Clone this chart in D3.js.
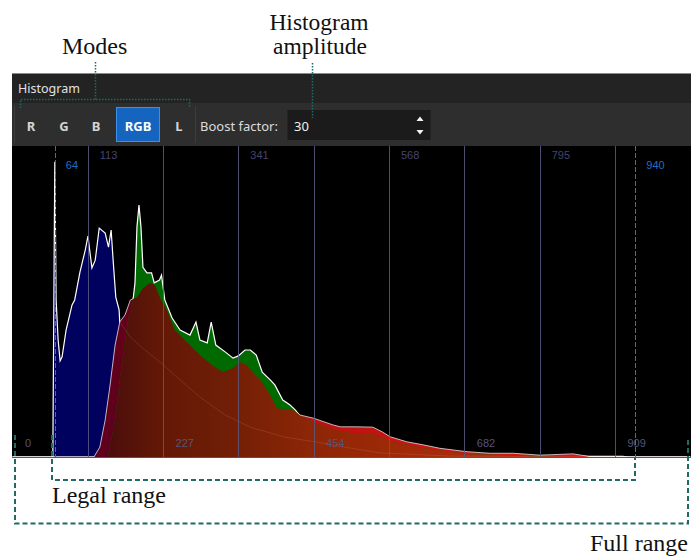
<!DOCTYPE html>
<html>
<head>
<meta charset="utf-8">
<script src="https://cdn.jsdelivr.net/npm/d3@7"></script>
<style>
  html, body { margin: 0; padding: 0; background: #fff; }
  svg { display: block; }
</style>
</head>
<body>
<div id="chart"></div>
<script>
// code values (0..1023) and relative amplitude (0..100) for each channel
var blueCodes  = [0, 61, 63, 64, 66, 69, 72, 75, 81, 90, 94, 102, 110, 114, 120, 125, 131, 140, 145, 149, 152, 156, 161, 162, 178, 200, 223, 253, 283, 321, 359, 411, 460, 509, 555, 660, 760, 921, 930, 1023];
var blueLevels = [0, 0, 64.6, 94.9, 50.5, 37.6, 30.9, 32.2, 40.8, 48.9, 50.5, 59.5, 66.6, 71, 60.8, 63.3, 73.6, 72, 67.5, 73, 63.3, 51.4, 47.3, 43.4, 38.6, 34.4, 30.5, 24.8, 19.3, 13.5, 9.6, 6.4, 4.8, 2.9, 1.3, 0.3, 0.2, 0.2, 0, 0];

var redCodes  = [0, 123, 132, 140, 147, 155, 162, 170, 178, 188, 197, 208, 215, 223, 233, 245, 263, 283, 301, 318, 333, 344, 354, 366, 374, 389, 399, 411, 424, 434, 454, 484, 495, 520, 544, 558, 570, 595, 620, 645, 686, 721, 756, 796, 846, 867, 872, 1023];
var redLevels = [0, 0, 3.2, 11.9, 22.5, 36, 43.4, 45.7, 50.5, 51.4, 54.3, 56, 55.3, 51.1, 47.3, 40.8, 37, 32.8, 29.6, 27.3, 28.6, 30.5, 29.6, 26.4, 24.8, 19.9, 15.8, 15.1, 15.1, 13.5, 12.5, 10.3, 9.7, 9.7, 9.6, 8.1, 6.5, 4.9, 3.9, 2.8, 1.7, 1.2, 1.2, 0.6, 1.0, 0.3, 0, 0];

var greenCodes  = [0, 144, 155, 162, 174, 182, 185, 188, 191, 194, 197, 203, 210, 214, 222, 225, 230, 241, 253, 268, 277, 283, 294, 300, 307, 321, 333, 341, 351, 359, 368, 377, 389, 396, 408, 419, 427, 434, 454, 484, 509, 545, 570, 620, 686, 796, 827, 1023];
var greenLevels = [0, 0, 11.9, 24.8, 43.4, 50.5, 56, 74, 81, 74, 61, 59.2, 59.2, 56, 56.9, 58.5, 50.5, 44.7, 40.8, 39.2, 43.4, 37.6, 36.7, 43.4, 36, 33.8, 31.8, 32.5, 34.4, 34.4, 32.8, 27.3, 24.8, 23.2, 18.3, 16.7, 15.1, 13.2, 11.3, 8.7, 7.7, 7.4, 5.1, 2.9, 1, 0.2, 0, 0];

var gridTicks  = [113.67, 227.33, 341, 454.67, 568.33, 682, 795.67, 909.33];
var topLabels  = [[113.67, "113"], [341, "341"], [568.33, "568"], [795.67, "795"]];
var botLabels  = [[0, "0"], [227.33, "227"], [454.67, "454"], [682, "682"], [909.33, "909"]];
var legalRange = [64, 940];
var modes      = ["R", "G", "B", "RGB", "L"];
var boostValue = "30";

var W = 691, H = 556;
var plotTop = 146, plotBottom = 457.5;

var x = d3.scaleLinear().domain([0, 1023]).range([12.4, 690.3]);
var y = d3.scaleLinear().domain([0, 100]).range([457, plotTop]);

function pts(codes, levels) {
    return codes.map(function(c, i) { return [c, levels[i]]; });
}
var blue = pts(blueCodes, blueLevels);
var red = pts(redCodes, redLevels);
var green = pts(greenCodes, greenLevels);

var svg = d3.select("#chart").append("svg")
    .attr("width", W).attr("height", H);

var defs = svg.append("defs");

// fill gradients along the code value axis
function gradient(id, stops) {
    var g = defs.append("linearGradient").attr("id", id)
        .attr("gradientUnits", "userSpaceOnUse")
        .attr("x1", x(0)).attr("x2", x(1023)).attr("y1", 0).attr("y2", 0);
    stops.forEach(function(s) {
        g.append("stop").attr("offset", s[0] / 1023).attr("stop-color", s[1]);
    });
}
gradient("redFill", [[120, "#5a0022"], [180, "#660018"], [420, "#b81010"], [640, "#cc1414"], [900, "#d41818"]]);
gradient("overlapFill", [[150, "#4c0e0c"], [220, "#621806"], [320, "#701e06"], [450, "#8c2606"], [600, "#a22a08"], [800, "#b03010"]]);

var area = d3.area()
    .x(function(d) { return x(d[0]); })
    .y0(y(0))
    .y1(function(d) { return y(d[1]); });
var line = d3.line()
    .x(function(d) { return x(d[0]); })
    .y(function(d) { return y(d[1]); });

defs.append("clipPath").attr("id", "greenClip")
    .append("path").attr("d", area(green));
var mask = defs.append("mask").attr("id", "outsideRed")
    .attr("maskUnits", "userSpaceOnUse")
    .attr("x", 0).attr("y", 0).attr("width", W).attr("height", H);
mask.append("rect").attr("width", W).attr("height", H).attr("fill", "#fff");
mask.append("path").attr("d", area(red)).attr("fill", "#000");

defs.append("clipPath").attr("id", "plotClip")
    .append("rect").attr("x", 12).attr("y", plotTop)
    .attr("width", W - 12).attr("height", plotBottom - plotTop);

// ---- panel chrome ----
svg.append("rect").attr("x", 12).attr("y", 73).attr("width", W - 12).attr("height", 30)
    .attr("fill", "#232323");
svg.append("line").attr("x1", 12).attr("x2", W).attr("y1", 73.5).attr("y2", 73.5)
    .attr("stroke", "#8a8a8a");
svg.append("text").text("Histogram")
    .attr("x", 18).attr("y", 93)
    .attr("font-family", "Noto Sans, sans-serif").attr("font-size", "12.5px")
    .attr("fill", "#e2e2e2");

svg.append("rect").attr("x", 12).attr("y", 103).attr("width", W - 12).attr("height", plotTop - 103)
    .attr("fill", "#2e2e2e");
svg.append("line").attr("x1", 14.5).attr("x2", 14.5).attr("y1", 106).attr("y2", 143)
    .attr("stroke", "#3c3c3c");
svg.append("line").attr("x1", 195.5).attr("x2", 195.5).attr("y1", 106).attr("y2", 143)
    .attr("stroke", "#3c3c3c");

var modeX = [31, 64, 96, 138, 179];
svg.append("rect").attr("x", 116.5).attr("y", 107.5).attr("width", 43).attr("height", 34)
    .attr("fill", "#1565c0").attr("stroke", "#3b90e8");
svg.selectAll("text.mode").data(modes).enter().append("text")
    .attr("class", "mode")
    .text(function(d) { return d; })
    .attr("x", function(d, i) { return modeX[i]; })
    .attr("y", 131)
    .attr("text-anchor", "middle")
    .attr("font-family", "Noto Sans, sans-serif").attr("font-size", "13px")
    .attr("font-weight", "bold")
    .attr("fill", function(d) { return d == "RGB" ? "#ffffff" : "#d4d4d4"; });

svg.append("text").text("Boost factor:")
    .attr("x", 200).attr("y", 131)
    .attr("font-family", "Noto Sans, sans-serif").attr("font-size", "13px")
    .attr("fill", "#dcdcdc");
svg.append("rect").attr("x", 287.5).attr("y", 110).attr("width", 143).attr("height", 30)
    .attr("fill", "#1b1b1b");
svg.append("text").text(boostValue)
    .attr("x", 294).attr("y", 131)
    .attr("font-family", "Noto Sans, sans-serif").attr("font-size", "13px")
    .attr("fill", "#f0f0f0");
svg.append("path").attr("d", "M416.5,121 L420,116.5 L423.5,121 Z").attr("fill", "#f2f2f2");
svg.append("path").attr("d", "M416.5,130 L420,134.5 L423.5,130 Z").attr("fill", "#f2f2f2");

// ---- histogram ----
svg.append("rect").attr("x", 12).attr("y", plotTop).attr("width", W - 12)
    .attr("height", plotBottom - plotTop).attr("fill", "#000");

var hist = svg.append("g").attr("clip-path", "url(#plotClip)");

hist.append("path").attr("d", area(blue)).attr("fill", "#00005e");
hist.append("path").attr("d", line(blue)).attr("fill", "none")
    .attr("stroke", "#ffffff").attr("stroke-width", 1.2);

hist.append("path").attr("d", area(red)).attr("fill", "url(#redFill)");
hist.append("path").attr("d", line(red)).attr("fill", "none")
    .attr("stroke", "#e8e0e0").attr("stroke-opacity", 0.8).attr("stroke-width", 1);

hist.append("path").attr("d", area(green)).attr("fill", "#006a00");
hist.append("path").attr("d", area(red)).attr("fill", "url(#overlapFill)")
    .attr("clip-path", "url(#greenClip)");
hist.append("path").attr("d", line(green)).attr("fill", "none")
    .attr("stroke", "#ffffff").attr("stroke-width", 1.2)
    .attr("mask", "url(#outsideRed)");

// faint blue channel trace through the other channels
hist.append("path").attr("d", line(blue.filter(function(d) { return d[0] >= 162; })))
    .attr("fill", "none").attr("stroke", "#ffb8a0").attr("stroke-opacity", 0.14)
    .attr("stroke-width", 1);

// grid lines and labels
hist.selectAll("line.grid").data(gridTicks).enter().append("line")
    .attr("class", "grid")
    .attr("x1", function(d) { return Math.round(x(d)) + 0.5; })
    .attr("x2", function(d) { return Math.round(x(d)) + 0.5; })
    .attr("y1", plotTop).attr("y2", plotBottom)
    .attr("stroke", "#5a5a82").attr("stroke-opacity", 0.85);

svg.selectAll("text.top").data(topLabels).enter().append("text")
    .attr("class", "top")
    .text(function(d) { return d[1]; })
    .attr("x", function(d) { return x(d[0]) + 12; })
    .attr("y", 159)
    .attr("font-family", "Liberation Sans, sans-serif").attr("font-size", "11px")
    .attr("fill", "#45456c");
svg.selectAll("text.bot").data(botLabels).enter().append("text")
    .attr("class", "bot")
    .text(function(d) { return d[1]; })
    .attr("x", function(d) { return x(d[0]) + 12.5; })
    .attr("y", 447)
    .attr("font-family", "Liberation Sans, sans-serif").attr("font-size", "11px")
    .attr("fill", "#55557a");

// legal range markers
svg.selectAll("line.legal").data(legalRange).enter().append("line")
    .attr("class", "legal")
    .attr("x1", function(d) { return Math.round(x(d)) + 0.5; })
    .attr("x2", function(d) { return Math.round(x(d)) + 0.5; })
    .attr("y1", plotTop).attr("y2", plotBottom)
    .attr("stroke", "#1a78d8").attr("stroke-dasharray", "5,2");
svg.selectAll("text.legal").data(legalRange).enter().append("text")
    .attr("class", "legal")
    .text(function(d) { return d; })
    .attr("x", function(d) { return x(d) + 11; })
    .attr("y", 169)
    .attr("font-family", "Liberation Sans, sans-serif").attr("font-size", "11px")
    .attr("fill", "#1e6fc4");

svg.append("line").attr("x1", 12).attr("x2", W).attr("y1", plotBottom).attr("y2", plotBottom)
    .attr("stroke", "#555");

// ---- annotations ----
var teal = "#1f6a62";
var serif = "Liberation Serif, Times New Roman, serif";

svg.append("text").text("Modes").attr("x", 62).attr("y", 54)
    .attr("font-family", serif).attr("font-size", "24px").attr("fill", "#111");
svg.append("text").text("Histogram").attr("x", 319).attr("y", 30)
    .attr("text-anchor", "middle")
    .attr("font-family", serif).attr("font-size", "23.5px").attr("fill", "#111");
svg.append("text").text("amplitude").attr("x", 320).attr("y", 54)
    .attr("text-anchor", "middle")
    .attr("font-family", serif).attr("font-size", "23.5px").attr("fill", "#111");
svg.append("text").text("Legal range").attr("x", 52).attr("y", 503)
    .attr("font-family", serif).attr("font-size", "24px").attr("fill", "#111");
svg.append("text").text("Full range").attr("x", 688).attr("y", 551)
    .attr("text-anchor", "end")
    .attr("font-family", serif).attr("font-size", "24px").attr("fill", "#111");

svg.append("path").attr("d", "M95.5,62 V99.5 M20.5,108 V99.5 H189.5 V108")
    .attr("fill", "none").attr("stroke", teal).attr("stroke-width", 1.5)
    .attr("stroke-dasharray", "1.5,1.5");
svg.append("path").attr("d", "M312.5,63 V118")
    .attr("fill", "none").attr("stroke", teal).attr("stroke-width", 1.5)
    .attr("stroke-dasharray", "1.5,1.5");

svg.append("path").attr("d", "M52,435 V480 H635 V458")
    .attr("fill", "none").attr("stroke", teal).attr("stroke-width", 2)
    .attr("stroke-dasharray", "5,3");
svg.append("path").attr("d", "M15,435 V523.5 H688 V437")
    .attr("fill", "none").attr("stroke", teal).attr("stroke-width", 2)
    .attr("stroke-dasharray", "5,3");
</script>
</body>
</html>
